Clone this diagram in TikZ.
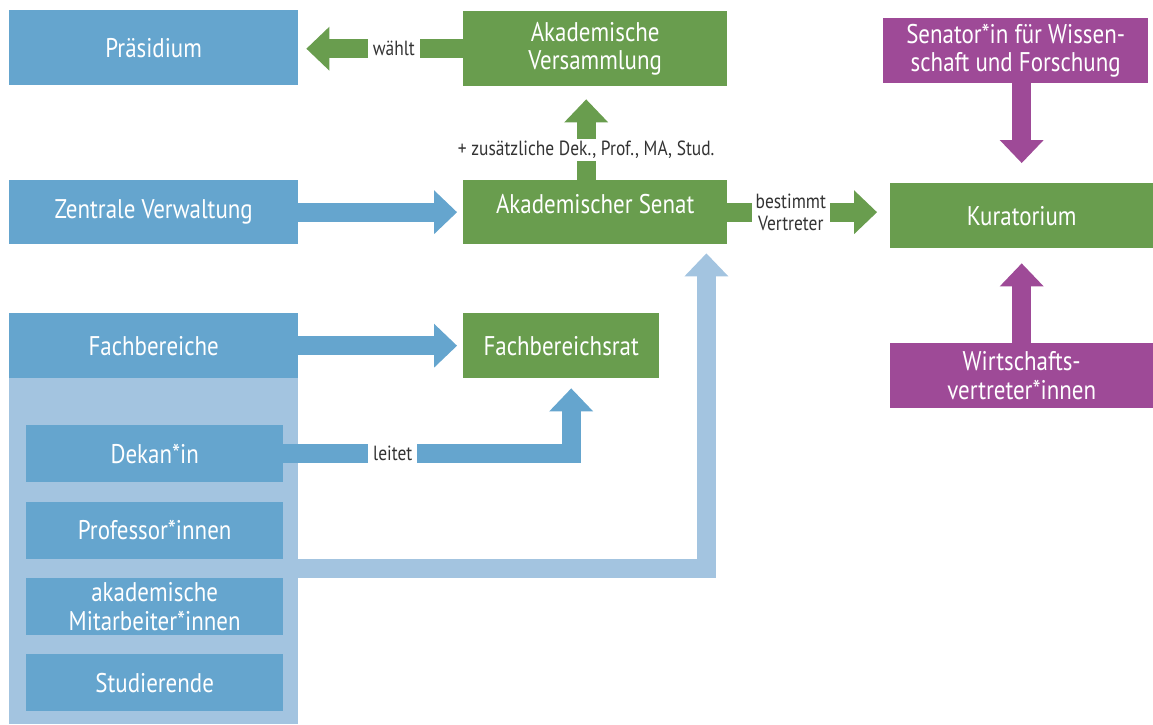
\documentclass[tikz,border=0pt]{standalone}
\usepackage{fontspec}
\setmainfont{PT Sans}[FakeStretch=0.85]
\usetikzlibrary{arrows.meta,positioning,calc}

\definecolor{uniblue}{HTML}{65A5CE}
\definecolor{unilight}{HTML}{A3C4E0}
\definecolor{unigreen}{HTML}{699D4E}
\definecolor{unipurple}{HTML}{9E4A97}
\definecolor{labelgray}{HTML}{333333}

\tikzset{
  box/.style={rectangle, inner sep=0pt, text=white, align=center, anchor=north west,
    font=\fontsize{27}{28.5}\selectfont},
  bluebox/.style={box, fill=uniblue},
  greenbox/.style={box, fill=unigreen},
  purplebox/.style={box, fill=unipurple},
  member/.style={bluebox, minimum width=257pt, minimum height=57pt},
  lbl/.style={fill=white, text=labelgray, inner xsep=5pt, inner ysep=2pt, align=center,
    font=\fontsize{20.5}{22.5}\selectfont},
  blockarrow/.style={line width=19pt, -{Triangle[width=44pt,length=23pt,line width=0pt]}},
}

\begin{document}
\begin{tikzpicture}[x=1pt,y=-1pt]
\useasboundingbox (0,0) rectangle (1153,724);

% top row
\node[bluebox, minimum width=289pt, minimum height=75pt] (praes) at (9,10) {Präsidium};
\node[greenbox, minimum width=264pt, minimum height=75pt] (vers) at (463,11) {Akademische\\Versammlung};
\node[purplebox, minimum width=265pt, minimum height=65pt] (senator) at (883,18) {Senator*in für Wissen-\\schaft und Forschung};

% middle row
\node[bluebox, minimum width=289pt, minimum height=64pt] (zv) at (9,180) {Zentrale Verwaltung};
\node[greenbox, minimum width=264pt, minimum height=64pt, text depth=16pt] (senat) at (463,180) {Akademischer Senat};
\node[greenbox, minimum width=263pt, minimum height=65pt] (kur) at (890,183) {Kuratorium};

% Fachbereiche
\node[bluebox, minimum width=289pt, minimum height=65pt] (fb) at (9,313) {Fachbereiche};
\node[fill=unilight, anchor=north west, inner sep=0pt, minimum width=289pt, minimum height=346pt] (fbpanel) at (9,378) {};
\node[greenbox, minimum width=196pt, minimum height=65pt] (fbrat) at (463,313) {Fachbereichsrat};
\node[purplebox, minimum width=263pt, minimum height=65pt] (wirt) at (890,343) {Wirtschafts-\\vertreter*innen};

\node[member] (dekan) at (26,425) {Dekan*in};
\node[member] (prof) [below=19pt of dekan] {Professor*innen};
\node[member] (mitarb) [below=19pt of prof] {akademische\\Mitarbeiter*innen};
\node[member] (stud) [below=19pt of mitarb] {Studierende};
\coordinate (gap) at ($(prof.south)!0.5!(mitarb.north)$);

% arrows
\draw[blockarrow, unigreen, shorten >=8pt] (vers.west) -- node[lbl, pos=0.42] {wählt} (vers.west -| praes.east);
\draw[blockarrow, unigreen, shorten >=13pt] ($(senat.north)+(-9,0)$) -- node[lbl, pos=0.32] {+ zusätzliche Dek., Prof., MA, Stud.} ($(vers.south)+(-9,0)$);
\draw[blockarrow, uniblue, shorten >=6pt] (zv.east) -- (senat.west);
\draw[blockarrow, unigreen, shorten >=13pt] (senat.east) -- node[lbl, pos=0.39, inner xsep=4pt] {bestimmt\\Vertreter} (senat.east -| kur.west);
\draw[blockarrow, uniblue, shorten >=6pt] (fb.east) -- (fbrat.west);
\draw[blockarrow, uniblue, shorten >=10pt] (dekan.east) -| node[lbl, pos=0.19] {leitet} ($(fbrat.south)+(10,0)$);
\draw[blockarrow, unilight, shorten >=9pt] (gap -| fbpanel.east) -| ($(senat.south east)+(-21,0)$);
\draw[blockarrow, unipurple, shorten >=20pt] (kur.north |- senator.south) -- (kur.north);
\draw[blockarrow, unipurple, shorten >=15pt] (wirt.north) -- (kur.south);
\end{tikzpicture}
\end{document}
